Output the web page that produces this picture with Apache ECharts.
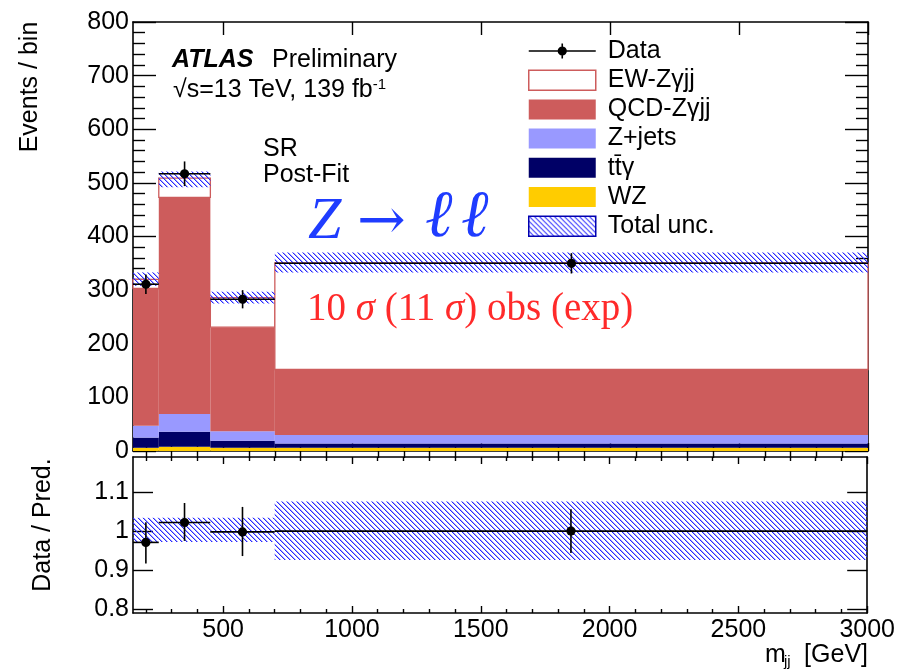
<!DOCTYPE html>
<html><head><meta charset="utf-8">
<script src="https://cdn.jsdelivr.net/npm/echarts@6/dist/echarts.min.js"></script>
<style>html,body{margin:0;padding:0;background:#fff}#c{width:898px;height:670px}</style>
</head><body><div id="c"></div>
<script>
// ---------------- data ----------------
const binEdges = [150, 250, 450, 700, 3000];
const dataCounts = [311, 517, 283, 350];
const dataErr = [18, 23, 17, 19];
const wz = [6, 8, 6, 6];
const ttgamma = [19, 28, 13, 8];
const zjets = [22, 33, 18, 16];
const qcd = [256, 404, 194, 122];
const ew = [17, 36, 55, 199];
const uncLow = [308, 492, 275, 333];
const uncHigh = [333, 521, 297, 370];
const ratio = [0.971, 1.022, 0.998, 1.0];
const ratioErrLow = [0.917, 0.975, 0.936, 0.944];
const ratioErrHigh = [1.023, 1.072, 1.062, 1.056];
const ratioBandLow = [0.972, 0.972, 0.972, 0.926];
const ratioBandHigh = [1.034, 1.034, 1.034, 1.076];
const xMajorTicks = [500, 1000, 1500, 2000, 2500, 3000];
const xMinorTicks = [200, 300, 400, 600, 700, 800, 900, 1100, 1200, 1300, 1400, 1600, 1700, 1800, 1900,
  2100, 2200, 2300, 2400, 2600, 2700, 2800, 2900];
const yMajorTicks = [0, 100, 200, 300, 400, 500, 600, 700, 800];
const yMinorTicks = [20, 40, 60, 80, 120, 140, 160, 180, 220, 240, 260, 280, 320, 340, 360, 380,
  420, 440, 460, 480, 520, 540, 560, 580, 620, 640, 660, 680, 720, 740, 760, 780];
const ratioTicks = [0.8, 0.9, 1, 1.1];
const compNames = ['WZ', 'tt\u0304\u03b3', 'Z+jets', 'QCD-Z\u03b3jj', 'EW-Z\u03b3jj'];
const compValues = [wz, ttgamma, zjets, qcd, ew];

// ---------------- styles ----------------
const FONT = '"Liberation Sans", Arial, Helvetica, sans-serif';
const FS = 25;
const compColors = ['#ffcc00', '#000066', '#9999ff', '#cd5c5c', '#ffffff'];

function makeHatch() {
  const n = 5;
  const c = document.createElement('canvas');
  c.width = n; c.height = n;
  const g = c.getContext('2d');
  for (let i = 0; i < n; i++) {
    g.fillStyle = 'rgba(30,30,255,0.95)';
    g.fillRect(i, i, 1, 1);
    g.fillStyle = 'rgba(60,60,255,0.45)';
    g.fillRect((i + 1) % n, i, 1, 1);
  }
  return c;
}
const hatch = { image: makeHatch(), repeat: 'repeat' };

// ---------------- build rows ----------------
const nb = dataCounts.length;
const base = new Array(nb).fill(0);
const compRows = compValues.map(v => v.map((val, i) => {
  const r = [binEdges[i], binEdges[i + 1], base[i], base[i] + val];
  base[i] += val;
  return r;
}));
const uncRows = uncLow.map((lo, i) => [binEdges[i], binEdges[i + 1], lo, uncHigh[i]]);
const dataRows = dataCounts.map((y, i) => [(binEdges[i] + binEdges[i + 1]) / 2, y,
  binEdges[i], binEdges[i + 1], y - dataErr[i], y + dataErr[i]]);
const bandRows = ratioBandLow.map((lo, i) => [binEdges[i], binEdges[i + 1], lo, ratioBandHigh[i]]);
const ratioRows = ratio.map((y, i) => [(binEdges[i] + binEdges[i + 1]) / 2, y,
  binEdges[i], binEdges[i + 1], ratioErrLow[i], ratioErrHigh[i]]);

function rectItem(style) {
  return function (params, api) {
    const a = api.coord([api.value(0), api.value(3)]);
    const b = api.coord([api.value(1), api.value(2)]);
    return { type: 'rect', shape: { x: a[0], y: a[1], width: b[0] - a[0], height: b[1] - a[1] }, style: style };
  };
}
function dataItem(params, api) {
  const xc = api.value(0), y = api.value(1);
  const p = api.coord([xc, y]);
  const pl = api.coord([api.value(2), y]);
  const pr = api.coord([api.value(3), y]);
  const pb = api.coord([xc, api.value(4)]);
  const pt = api.coord([xc, api.value(5)]);
  return {
    type: 'group', children: [
      { type: 'line', shape: { x1: pl[0], y1: p[1], x2: pr[0], y2: p[1] }, style: { stroke: '#000', lineWidth: 1.6 } },
      { type: 'line', shape: { x1: p[0], y1: pt[1], x2: p[0], y2: pb[1] }, style: { stroke: '#000', lineWidth: 1.6 } },
      { type: 'circle', shape: { cx: p[0], cy: p[1], r: 4.6 }, style: { fill: '#000' } }
    ]
  };
}

// ---------------- axes ----------------
const axLine = { show: true, onZero: false, lineStyle: { color: '#000', width: 1.6 } };
const tickLS = { color: '#000', width: 1.4 };
function xAx(grid, pos, ticks, len, withLine, labels) {
  return {
    type: 'value', gridIndex: grid, position: pos, min: 150, max: 3000,
    axisLine: withLine ? axLine : { show: false },
    axisTick: { show: true, inside: true, length: len, customValues: ticks, lineStyle: tickLS },
    axisLabel: labels ? { show: true, customValues: xMajorTicks, formatter: v => String(v), fontSize: FS, color: '#000', fontFamily: FONT, margin: 5 } : { show: false },
    splitLine: { show: false }
  };
}
const xAxes = [
  xAx(0, 'bottom', xMajorTicks, 8, true, false),
  xAx(0, 'bottom', xMinorTicks, 5, false, false),
  xAx(0, 'top', xMajorTicks, 13, true, false),
  xAx(0, 'top', xMinorTicks, 7, false, false),
  xAx(1, 'bottom', xMajorTicks, 7, true, true),
  xAx(1, 'bottom', xMinorTicks, 4, false, false),
  xAx(1, 'top', xMajorTicks, 7, true, false),
  xAx(1, 'top', xMinorTicks, 4, false, false)
];
function yTop(pos, ticks, len, withLine, labels) {
  return {
    type: 'value', gridIndex: 0, position: pos, min: 0, max: 800,
    axisLine: withLine ? axLine : { show: false },
    axisTick: { show: true, inside: true, length: len, customValues: ticks, lineStyle: tickLS },
    axisLabel: labels ? { show: true, customValues: yMajorTicks, fontSize: FS, color: '#000', fontFamily: FONT, margin: 4 } : { show: false },
    splitLine: { show: false }
  };
}
function yBot(pos, labels) {
  return {
    type: 'value', gridIndex: 1, position: pos, min: 0.79, max: 1.19,
    axisLine: axLine,
    axisTick: { show: true, inside: true, length: 20, customValues: ratioTicks, lineStyle: tickLS },
    axisLabel: labels ? { show: true, customValues: ratioTicks, fontSize: FS, color: '#000', fontFamily: FONT, margin: 4 } : { show: false },
    splitLine: { show: false }
  };
}
const yAxes = [
  yTop('left', yMajorTicks, 23, true, true),
  yTop('right', yMajorTicks, 23, true, false),
  yBot('left', true), yBot('right', false),
  yTop('left', yMinorTicks, 12, false, false),
  yTop('right', yMinorTicks, 12, false, false)
];

// ---------------- series ----------------
const series = [];
compRows.forEach((rows, k) => {
  const isEW = k === 4;
  const st = isEW ? { fill: '#ffffff', stroke: '#cd5c5c', lineWidth: 1.3 } : { fill: compColors[k] };
  series.push({
    type: 'custom', name: compNames[k], xAxisIndex: 0, yAxisIndex: 0,
    renderItem: rectItem(st), data: rows, encode: { x: [0, 1], y: [2, 3] },
    itemStyle: { color: compColors[k] }, silent: true
  });
});
series.push({
  type: 'custom', name: 'Total unc.', xAxisIndex: 0, yAxisIndex: 0,
  renderItem: rectItem({ fill: hatch }), data: uncRows, encode: { x: [0, 1], y: [2, 3] },
  itemStyle: { color: hatch }, silent: true
});
series.push({
  type: 'custom', name: 'Data', xAxisIndex: 0, yAxisIndex: 0,
  renderItem: dataItem, data: dataRows, encode: { x: 0, y: 1 }, itemStyle: { color: '#000' }, silent: true
});
series.push({
  type: 'custom', name: 'ratio band', xAxisIndex: 4, yAxisIndex: 2,
  renderItem: rectItem({ fill: hatch }), data: bandRows, encode: { x: [0, 1], y: [2, 3] }, silent: true
});
series.push({
  type: 'custom', name: 'ratio data', xAxisIndex: 4, yAxisIndex: 2,
  renderItem: dataItem, data: ratioRows, encode: { x: 0, y: 1 }, silent: true
});

// ---------------- texts ----------------
function txt(x, y, text, font, fill, extra) {
  return Object.assign({ type: 'text', x: x, y: y, z: 100, silent: true,
    style: Object.assign({ text: text, font: font, fill: fill || '#000', verticalAlign: 'middle' }, extra || {}) });
}
const BLUE = '#1f3cff';
const RED = '#ff2a2a';
const graphic = [
  txt(172, 60, 'ATLAS', 'italic bold ' + FS + 'px ' + FONT),
  txt(272, 60, 'Preliminary', FS + 'px ' + FONT),
  {
    type: 'text', x: 173, y: 90, z: 100, silent: true,
    style: {
      text: '{a|\u221as=13 TeV, 139 fb}{b|-1}', verticalAlign: 'middle',
      rich: {
        a: { fontSize: FS, fontFamily: 'Liberation Sans', fill: '#000' },
        b: { fontSize: 15, fontFamily: 'Liberation Sans', fill: '#000', verticalAlign: 'top', lineHeight: 26 }
      }
    }
  },
  txt(263, 149, 'SR', FS + 'px ' + FONT),
  txt(263, 175, 'Post-Fit', FS + 'px ' + FONT),
  txt(308, 222, 'Z', 'italic 60px "Liberation Serif", "DejaVu Serif", serif', BLUE),
  txt(357, 224, '\u2192', '58px "DejaVu Serif", serif', BLUE),
  txt(425, 219, '\u2113', 'italic 66px "DejaVu Serif", serif', BLUE),
  txt(461, 219, '\u2113', 'italic 66px "DejaVu Serif", serif', BLUE),
  {
    type: 'text', x: 307, y: 310, z: 100, silent: true,
    style: {
      text: '{n|10 }{s|\u03c3}{n| (11 }{s|\u03c3}{n|) obs (exp)}', verticalAlign: 'middle',
      rich: {
        n: { fontSize: 39, fontFamily: 'Liberation Serif', fill: RED },
        s: { fontSize: 39, fontFamily: 'Liberation Serif', fontStyle: 'italic', fill: RED }
      }
    }
  },
  Object.assign(txt(0, 0, 'Events / bin', FS + 'px ' + FONT, '#000', { align: 'center' }), { x: 30, y: 87, rotation: Math.PI / 2 }),
  Object.assign(txt(0, 0, 'Data / Pred.', FS + 'px ' + FONT, '#000', { align: 'center' }), { x: 43, y: 525, rotation: Math.PI / 2 }),
  txt(765, 655, 'm', FS + 'px ' + FONT),
  txt(784, 662, 'jj', '15px ' + FONT),
  txt(868, 655, '[GeV]', FS + 'px ' + FONT, '#000', { align: 'right' })
];

// ---------------- chart ----------------
const chart = echarts.init(document.getElementById('c'), null, { renderer: 'canvas' });
chart.setOption({
  animation: false,
  backgroundColor: '#fff',
  textStyle: { fontFamily: FONT },
  grid: [
    { left: 133, right: 30, top: 22, height: 429 },
    { left: 133, right: 30, top: 457, height: 156 }
  ],
  xAxis: xAxes,
  yAxis: yAxes,
  legend: {
    orient: 'vertical', left: 528, top: 38.5, itemWidth: 67, itemHeight: 20, itemGap: 4.2, padding: 0,
    selectedMode: false,
    textStyle: { fontSize: FS, color: '#000', fontFamily: FONT, padding: [0, 0, 0, 7] },
    data: [
      { name: 'Data', icon: 'path://M0,9.2 L67,9.2 L67,10.8 L0,10.8 Z M32.7,2.5 L34.3,2.5 L34.3,17.5 L32.7,17.5 Z M28.9,10 A4.6,4.6 0 1,1 38.1,10 A4.6,4.6 0 1,1 28.9,10 Z', itemStyle: { color: '#000' } },
      { name: 'EW-Z\u03b3jj', icon: 'rect', itemStyle: { color: '#fff', borderColor: '#cd5c5c', borderWidth: 1.5 } },
      { name: 'QCD-Z\u03b3jj', icon: 'rect', itemStyle: { color: '#cd5c5c' } },
      { name: 'Z+jets', icon: 'rect', itemStyle: { color: '#9999ff' } },
      { name: 'tt\u0304\u03b3', icon: 'rect', itemStyle: { color: '#000066' } },
      { name: 'WZ', icon: 'rect', itemStyle: { color: '#ffcc00' } },
      { name: 'Total unc.', icon: 'rect', itemStyle: { color: hatch, borderColor: '#0000b0', borderWidth: 1.5 } }
    ]
  },
  graphic: graphic,
  series: series
});
</script></body></html>
